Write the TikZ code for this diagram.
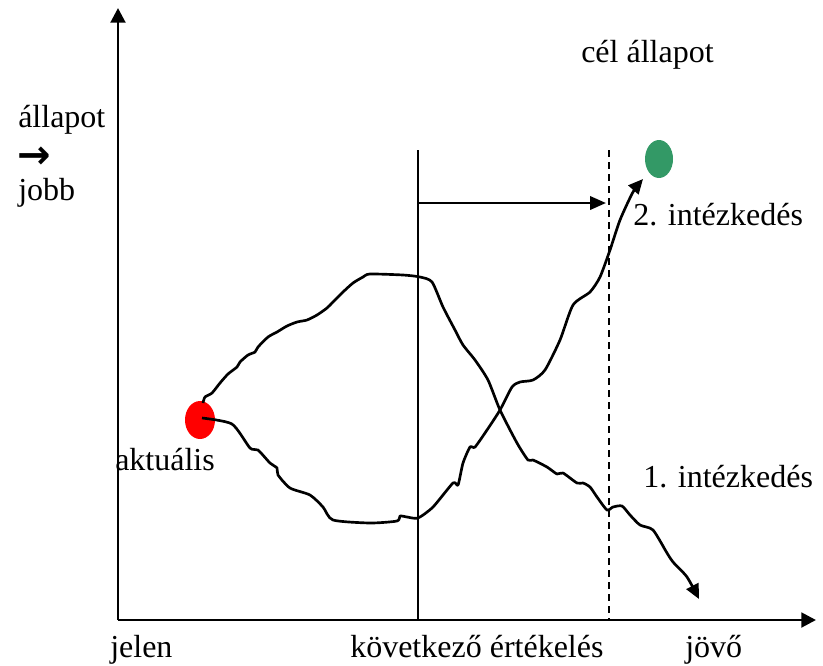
\documentclass[tikz,border=0pt]{standalone}
\usepackage{fontspec}
\setmainfont{Liberation Serif}
\newfontfamily\nyilfont{DejaVu Sans Bold}
\usetikzlibrary{arrows.meta}
\definecolor{celzold}{RGB}{51,153,102}

\begin{document}
\begin{tikzpicture}[x=0.75pt,y=-0.75pt,font=\fontsize{24}{28}\selectfont,
	felirat/.style={anchor=base west,inner sep=0pt},
	gorbe/.style={line width=2pt,line join=round,-{Triangle[width=10pt,length=11pt]}}]
		\useasboundingbox (0,0) rectangle (823,665);
		%Tengelyek
		\draw[line width=2.2pt,-{Triangle[width=11pt,length=11pt]}] (118,620)--(118,8);
		\draw[line width=2.2pt,-{Triangle[width=11pt,length=11pt]}] (118,620)--(816,620);
		
		%Egyenesek (kovetkezo ertekeles, cel)
		\draw[line width=1pt] (418,150)--(418,620);
		\draw[line width=1pt,dash pattern=on 5pt off 4pt] (609,150)--(609,620);
		\draw[line width=2pt,-{Triangle[width=10pt,length=12pt]}] (418,203)--(606,203);
		
		%Pontok
		\fill[red] (200,420) ellipse [x radius=15,y radius=19];
		\fill[celzold] (659,159) ellipse [x radius=14,y radius=19];
		
		%1. intezkedes (felso gorbe)
		\draw[gorbe] plot[smooth,tension=0.4] coordinates {(203,403) (205,397) (212,393) (220,383)
			(228,374) (237,367) (240,362) (248,355) (255,352) (258,347) (268,337) (277,332)
			(287,326) (297,322) (307,320) (317,315) (327,308) (333,302) (343,292) (353,283)
			(363,277) (370,274) (403,275) (420,277) (432,282) (443,307) (455,330) (463,345)
			(475,360) (488,380) (500,410) (517,443) (528,460) (533,460) (547,467) (557,474)
			(563,473) (577,483) (583,483) (590,487) (597,497) (607,510) (613,507) (622,506)
			(630,515) (640,525) (653,530) (667,553) (673,562) (687,577) (699,599)};
		
		%2. intezkedes (also gorbe)
		\draw[gorbe] plot[smooth,tension=0.4] coordinates {(202,418) (232,424) (250,448) (258,450)
			(270,463) (277,468) (278,475) (290,488) (310,495) (323,507) (333,520) (370,523)
			(397,521) (400,516) (407,517) (418,518) (433,507) (453,483) (458,485) (463,463)
			(470,447) (475,447) (487,430) (500,410) (512,387) (520,382) (533,380) (545,370)
			(560,340) (573,305) (590,292) (600,277) (610,250) (620,220) (633,192) (643,179)};
		
		%Feliratok
		\node[felirat] at (17,168) {\nyilfont\fontsize{30}{34}\selectfont →};
		\node[felirat] at (18,127) {állapot};
		\node[felirat] at (18,200) {jobb};
		\node[felirat] at (581,62) {cél állapot};
		\node[felirat] at (633,225) {2. intézkedés};
		\node[felirat] at (643,487) {1. intézkedés};
		\node[felirat] at (115,470) {aktuális};
		\node[felirat] at (110,657) {jelen};
		\node[felirat] at (350,657) {következő értékelés};
		\node[felirat] at (685,657) {jövő};
	\end{tikzpicture}
\end{document}
